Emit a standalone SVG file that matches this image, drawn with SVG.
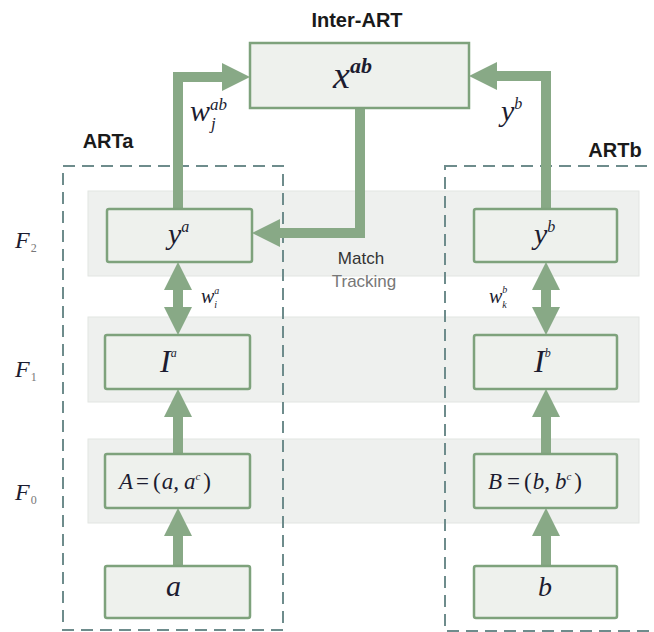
<svg xmlns="http://www.w3.org/2000/svg" width="654" height="632" viewBox="0 0 654 632">
  <style>
    .band { fill: #eef0ee; stroke: #e2e5e2; stroke-width: 1; }
    .box { fill: #eef1ed; stroke: #7ea27c; stroke-width: 2.5; }
    .frame { fill: none; stroke: #6e8c8c; stroke-width: 2; stroke-dasharray: 12 7; }
    .link { fill: none; stroke: #88a986; stroke-width: 10; stroke-linejoin: miter; }
    .head { fill: #88a986; }
    .title { font-family: "Liberation Sans", Arial, sans-serif; font-weight: bold; font-size: 20px; fill: #1a1a1a; }
    .note { font-family: "Liberation Sans", Arial, sans-serif; font-size: 17px; }
    .math { font-family: "Liberation Serif", "Times New Roman", serif; font-style: italic; fill: #1c1c30; }
    .up { font-style: normal; }
    .layer { font-family: "Liberation Serif", "Times New Roman", serif; font-style: italic; fill: #1c1c30; font-size: 24px; }
    .sub { font-style: normal; font-weight: normal; fill: #777; font-size: 12px; }
  </style>
  <defs>
    <marker id="tip" markerUnits="userSpaceOnUse" markerWidth="28" markerHeight="28" viewBox="0 0 28 28" refX="2" refY="14" orient="auto-start-reverse">
      <path class="head" d="M0,0 L28,14 L0,28 z"/>
    </marker>
  </defs>

  <!-- layer bands -->
  <g id="bands">
    <rect class="band" x="88" y="191" width="551" height="85"/>
    <rect class="band" x="88" y="317" width="551" height="85"/>
    <rect class="band" x="88" y="439" width="551" height="84"/>
  </g>

  <!-- module frames -->
  <g id="frames">
    <rect class="frame" x="63" y="166" width="220" height="464"/>
    <rect class="frame" x="445" y="166" width="240" height="465"/>
  </g>

  <!-- titles -->
  <g id="titles">
    <text class="title" x="357" y="27" text-anchor="middle">Inter-ART</text>
    <text class="title" x="108" y="148" text-anchor="middle">ARTa</text>
    <text class="title" x="615" y="157" text-anchor="middle">ARTb</text>
  </g>

  <!-- layer labels -->
  <g id="layer-labels">
    <text class="layer" x="15" y="248">F<tspan class="sub" dx="1" dy="4">2</tspan></text>
    <text class="layer" x="15" y="377">F<tspan class="sub" dx="1" dy="4">1</tspan></text>
    <text class="layer" x="15" y="500">F<tspan class="sub" dx="1" dy="4">0</tspan></text>
  </g>

  <!-- connectors -->
  <g id="connectors">
    <path class="link" d="M178,210 V77 H224" marker-end="url(#tip)"/>
    <path class="link" d="M360,107 V233 H278" marker-end="url(#tip)"/>
    <path class="link" d="M546,210 V76 H495" marker-end="url(#tip)"/>
    <path class="link" d="M178,288 V309" marker-start="url(#tip)" marker-end="url(#tip)"/>
    <path class="link" d="M178,454 V415" marker-end="url(#tip)"/>
    <path class="link" d="M178,566 V534" marker-end="url(#tip)"/>
    <path class="link" d="M546,288 V309" marker-start="url(#tip)" marker-end="url(#tip)"/>
    <path class="link" d="M546,454 V415" marker-end="url(#tip)"/>
    <path class="link" d="M546,566 V534" marker-end="url(#tip)"/>
  </g>

  <!-- connector labels -->
  <g id="connector-labels">
    <text class="math" x="190" y="121" font-size="30">w<tspan font-size="17" dy="-11">ab</tspan><tspan font-size="17" dx="-16" dy="19">j</tspan></text>
    <text class="math" x="501" y="121" font-size="30">y<tspan font-size="16" dy="-12">b</tspan></text>
    <text class="math" x="201" y="303" font-size="20" fill="#555">w<tspan font-size="10" dy="-9">a</tspan><tspan font-size="10" dx="-5" dy="14">i</tspan></text>
    <text class="math" x="489" y="303" font-size="20">w<tspan font-size="10" dy="-10">b</tspan><tspan font-size="10" dx="-5" dy="15">k</tspan></text>
    <text class="note" x="361" y="264" text-anchor="middle" fill="#333">Match</text>
    <text class="note" x="364" y="287" text-anchor="middle" fill="#777">Tracking</text>
  </g>

  <!-- Inter-ART map field -->
  <g id="node-xab">
    <rect class="box" x="250" y="43" width="219" height="65"/>
    <text class="math" x="333" y="88" font-size="38">x<tspan font-size="22" font-weight="bold" dy="-15">ab</tspan></text>
  </g>

  <!-- ARTa nodes -->
  <g id="node-ya">
    <rect class="box" x="107" y="209" width="145" height="53" rx="2"/>
    <text class="math" x="168" y="244" font-size="30">y<tspan font-size="16" dy="-12">a</tspan></text>
  </g>
  <g id="node-Ia">
    <rect class="box" x="105" y="335" width="145" height="54" rx="2"/>
    <text class="math" x="160" y="372" font-size="32">I<tspan font-size="12" dy="-15">a</tspan></text>
  </g>
  <g id="node-A">
    <rect class="box" x="105" y="454" width="145" height="54" rx="2"/>
    <text class="math" x="119" y="489" font-size="23">A<tspan class="up" dx="3">=</tspan><tspan class="up" dx="4">(</tspan><tspan dx="1">a,</tspan><tspan dx="5">a</tspan><tspan font-size="11" dy="-9">c</tspan><tspan class="up" dx="3" dy="9">)</tspan></text>
  </g>
  <g id="node-a">
    <rect class="box" x="105" y="566" width="145" height="52" rx="2"/>
    <text class="math" x="166" y="596" font-size="30">a</text>
  </g>

  <!-- ARTb nodes -->
  <g id="node-yb">
    <rect class="box" x="474" y="209" width="143" height="53" rx="2"/>
    <text class="math" x="534" y="244" font-size="30">y<tspan font-size="16" dy="-12">b</tspan></text>
  </g>
  <g id="node-Ib">
    <rect class="box" x="474" y="335" width="143" height="54" rx="2"/>
    <text class="math" x="534" y="372" font-size="32">I<tspan font-size="12" dy="-15">b</tspan></text>
  </g>
  <g id="node-B">
    <rect class="box" x="474" y="454" width="143" height="54" rx="2"/>
    <text class="math" x="488" y="489" font-size="23">B<tspan class="up" dx="5">=</tspan><tspan class="up" dx="4">(</tspan><tspan dx="1">b,</tspan><tspan dx="5">b</tspan><tspan font-size="11" dy="-9">c</tspan><tspan class="up" dx="3" dy="9">)</tspan></text>
  </g>
  <g id="node-b">
    <rect class="box" x="474" y="566" width="143" height="52" rx="2"/>
    <text class="math" x="538" y="596" font-size="28">b</text>
  </g>
</svg>
